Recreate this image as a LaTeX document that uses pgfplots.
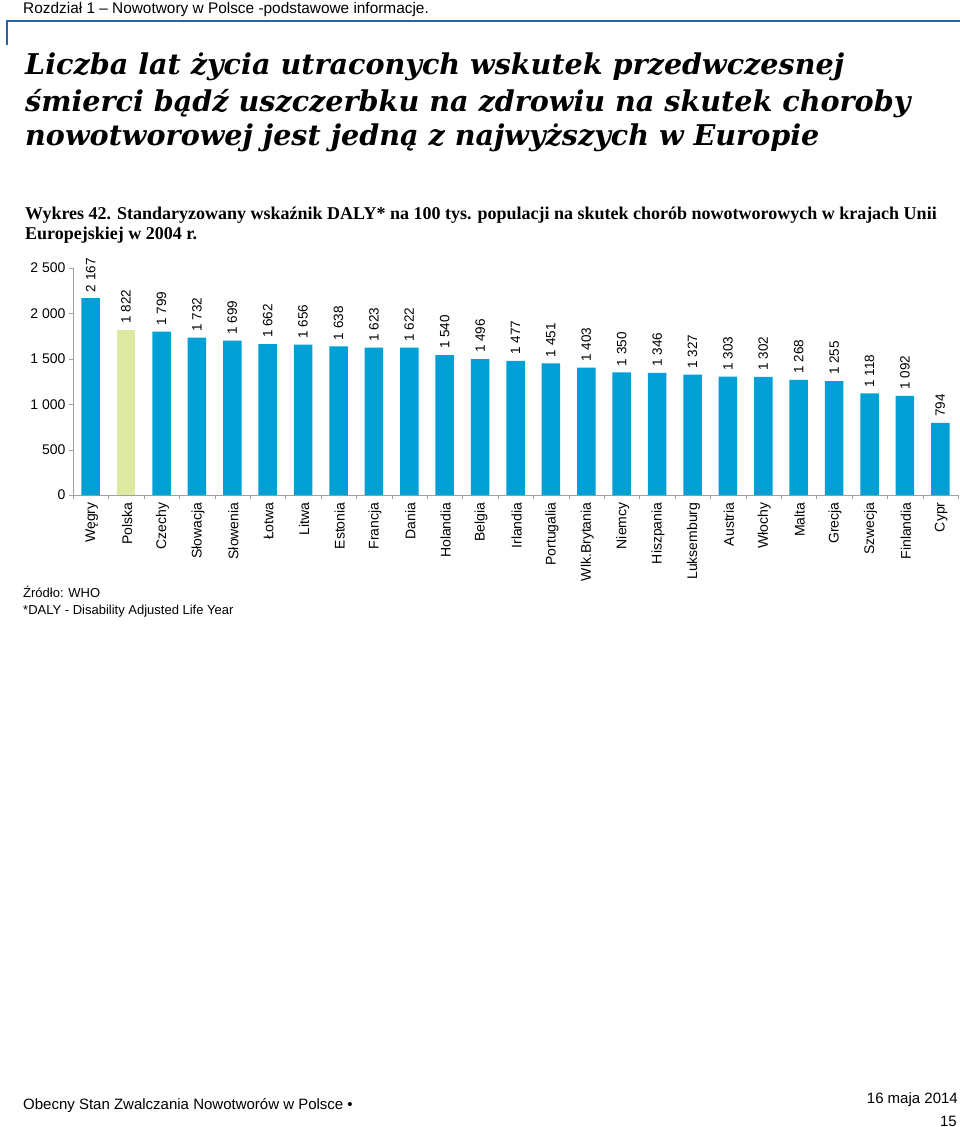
\documentclass[border=0pt]{standalone}
\usepackage{fontspec}
\setmainfont{Liberation Sans}
\newfontfamily\titlefont{DejaVu Serif}
\newfontfamily\subfont{Liberation Serif}
\usepackage{pgfplots}
\pgfplotsset{compat=1.18}
\definecolor{barblue}{RGB}{0,160,214}
\definecolor{bargreen}{RGB}{221,233,160}
\definecolor{rulecol}{RGB}{40,100,160}
\definecolor{axgray}{RGB}{160,160,160}
\pgfplotstableread{
x y
0 2167
2 1799
3 1732
4 1699
5 1662
6 1656
7 1638
8 1623
9 1622
10 1540
11 1496
12 1477
13 1451
14 1403
15 1350
16 1346
17 1327
18 1303
19 1302
20 1268
21 1255
22 1118
23 1092
24 794
}\bluedata
\pgfplotstableread{
x y
1 1822
}\greendata
\begin{document}
\begin{tikzpicture}
\path[use as bounding box] (0,0) rectangle (960pt,-1127pt);
% header
\node[anchor=base west, inner sep=0pt, font=\fontsize{15.4}{18}\selectfont] at (23pt,-13pt) {Rozdział 1 – Nowotwory w Polsce -podstawowe informacje.};
\draw[rulecol, line width=1.2pt] (7pt,-45pt) -- (7pt,-21pt) -- (960pt,-21pt);
% title
\begin{scope}[every node/.style={anchor=base west, inner sep=0pt, font=\titlefont\bfseries\itshape\fontsize{28.6}{34}\selectfont}]
\node at (25pt,-74pt) {Liczba lat życia utraconych wskutek przedwczesnej};
\node at (25pt,-111pt) {śmierci bądź uszczerbku na zdrowiu na skutek choroby};
\node at (25pt,-145pt) {nowotworowej jest jedną z najwyższych w Europie};
\end{scope}
% subtitle
\begin{scope}[every node/.style={anchor=base west, inner sep=0pt, font=\subfont\bfseries\fontsize{18}{21}\selectfont}]
\node at (25pt,-219pt) {Wykres 42. Standaryzowany wskaźnik DALY* na 100 tys. populacji na skutek chorób nowotworowych w krajach Unii};
\node at (25pt,-239pt) {Europejskiej w 2004 r.};
\end{scope}
\begin{axis}[
  at={(73pt,-495pt)}, anchor=south west,
  scale only axis, width=885pt, height=227pt,
  xmin=-0.5, xmax=24.5, ymin=0, ymax=2500,
  ybar, bar width=18.5pt,
  axis x line*=bottom, axis y line*=left,
  axis line style={draw=axgray},
  ytick={0,500,...,2500},
  xtick={0,...,24},
  xticklabels={Węgry,Polska,Czechy,Słowacja,Słowenia,Łotwa,Litwa,Estonia,Francja,Dania,Holandia,Belgia,Irlandia,Portugalia,Wlk.Brytania,Niemcy,Hiszpania,Luksemburg,Austria,Włochy,Malta,Grecja,Szwecja,Finlandia,Cypr},
  xticklabel style={rotate=90, anchor=east, font=\fontsize{14}{16}\selectfont, yshift=-1pt},
  yticklabel style={font=\fontsize{14}{16}\selectfont},
  major x tick style={draw=none},
  minor xtick={-0.5,0.5,...,24.5},
  tick align=outside, major tick length=4pt, minor tick length=4pt,
  tick style={axgray},
  /pgf/number format/1000 sep={\ },
  /pgf/number format/assume math mode=true,
  nodes near coords,
  nodes near coords style={rotate=90, anchor=west, inner xsep=6pt, inner ysep=0pt, font=\fontsize{13.5}{16}\selectfont, text=black},
]
\addplot[fill=barblue, draw=none, bar shift=0pt] table[x=x,y=y]{\bluedata};
\addplot[fill=bargreen, draw=none, bar shift=0pt] table[x=x,y=y]{\greendata};
\end{axis}
% notes
\node[anchor=base west, inner sep=0pt, font=\fontsize{13}{16}\selectfont] at (23pt,-597pt) {Źródło: WHO};
\node[anchor=base west, inner sep=0pt, font=\fontsize{13}{16}\selectfont] at (23pt,-614pt) {*DALY - Disability Adjusted Life Year};
% footer
\node[anchor=base west, inner sep=0pt, font=\fontsize{15}{18}\selectfont] at (23pt,-1109pt) {Obecny Stan Zwalczania Nowotworów w Polsce •};
\node[anchor=base east, inner sep=0pt, font=\fontsize{15}{18}\selectfont] at (958pt,-1103pt) {16 maja 2014};
\node[anchor=base east, inner sep=0pt, font=\fontsize{15}{18}\selectfont] at (957pt,-1126pt) {15};
\end{tikzpicture}
\end{document}
